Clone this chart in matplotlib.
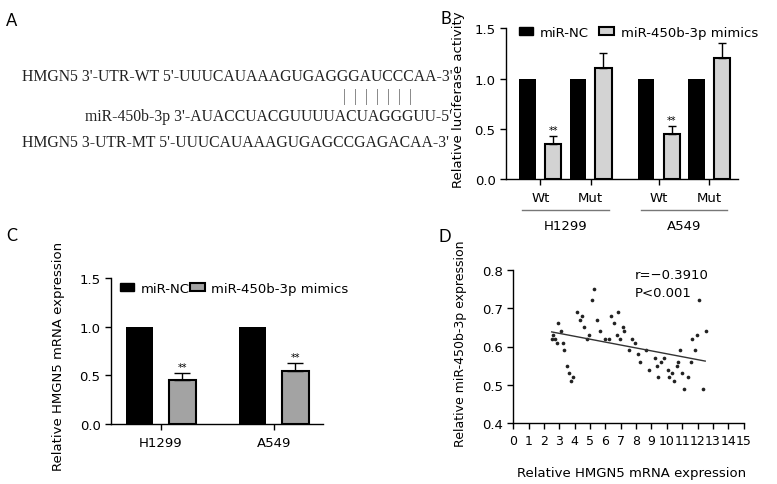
import matplotlib
matplotlib.use("Agg")
import matplotlib.pyplot as plt
from matplotlib.patches import Patch
import numpy as np

plt.rcParams['font.family'] = ['DejaVu Sans']
plt.rcParams['font.size'] = 9.5
plt.rcParams['axes.linewidth'] = 1.0
plt.rcParams['xtick.major.width'] = 1.0
plt.rcParams['ytick.major.width'] = 1.0

# panel A - sequences
seq_wt = "HMGN5 3'-UTR-WT 5'-UUUCAUAAAGUGAGGGAUCCCAA-3'"
seq_pair = "|  |  |  |  |  |  |"
seq_mir = "miR-450b-3p 3'-AUACCUACGUUUUACUAGGGUU-5'"
seq_mt = "HMGN5 3-UTR-MT 5'-UUUCAUAAAGUGAGCCGAGACAA-3'"

# panel B - luciferase
luc_groups = ['H1299', 'A549']
luc_ticks = ['Wt', 'Mut', 'Wt', 'Mut']
luc_nc = [1.0, 1.0, 1.0, 1.0]
luc_mimic = [0.35, 1.10, 0.45, 1.20]
luc_err = [0.077, 0.15, 0.077, 0.15]
luc_sig = ['**', '', '**', '']

# panel C - mRNA
mrna_cells = ['H1299', 'A549']
mrna_nc = [1.0, 1.0]
mrna_mimic = [0.45, 0.55]
mrna_err = [0.075, 0.075]
mrna_sig = ['**', '**']

# panel D - correlation
hmgn5 = [2.50, 2.61, 2.71, 2.82, 2.93, 3.11, 3.21, 3.32, 3.52, 3.63, 3.73, 3.91,
         4.13, 4.32, 4.45, 4.63, 4.82, 4.91, 5.10, 5.26, 5.43, 5.62, 5.95, 6.21,
         6.34, 6.54, 6.73, 6.84, 6.95, 7.12, 7.23, 7.54, 7.73, 7.93, 8.12, 8.25,
         8.62, 8.84, 9.23, 9.34, 9.45, 9.64, 9.84, 10.05, 10.16, 10.34, 10.45,
         10.64, 10.75, 10.86, 10.97, 11.14, 11.36, 11.55, 11.66, 11.86, 11.94,
         12.12, 12.33, 12.53]
mir450 = [0.62, 0.63, 0.62, 0.61, 0.66, 0.64, 0.61, 0.59, 0.55, 0.53, 0.51, 0.52,
          0.69, 0.67, 0.68, 0.65, 0.62, 0.63, 0.72, 0.75, 0.67, 0.64, 0.62, 0.62,
          0.68, 0.66, 0.63, 0.69, 0.62, 0.65, 0.64, 0.59, 0.62, 0.61, 0.58, 0.56,
          0.59, 0.54, 0.57, 0.55, 0.52, 0.56, 0.57, 0.54, 0.52, 0.53, 0.51,
          0.55, 0.56, 0.59, 0.53, 0.49, 0.52, 0.56, 0.62, 0.59, 0.63,
          0.72, 0.49, 0.64]
fit_x = [2.5, 12.5]
fit_y = [0.638, 0.562]
r_text = 'r=\u22120.3910'
p_text = 'P<0.001'

W, H = 777, 485
fig = plt.figure(figsize=(W / 100, H / 100), dpi=100)


def px_axes(left, top, right, bottom):
    return fig.add_axes([left / W, 1 - bottom / H, (right - left) / W, (bottom - top) / H])


# panel letters
for lab, x, y in [('A', 11.5, 20.5), ('B', 446, 19), ('C', 11.5, 236), ('D', 445, 237.5)]:
    fig.text(x / W, 1 - y / H, lab, fontsize=12, family='Lato', ha='center', va='center')

# ---- A
serif = dict(family='Liberation Serif', fontsize=11.35, color='#222222', va='center')
fig.text(21.7 / W, 1 - 76.7 / H, seq_wt, ha='left', **serif)
fig.text(343 / W, 1 - 96.7 / H, seq_pair, ha='left', **dict(serif, color='#666666'))
fig.text(85 / W, 1 - 116.7 / H, seq_mir, ha='left', **serif)
fig.text(21.7 / W, 1 - 143.3 / H, seq_mt, ha='left', **serif)

light = '#d3d3d3'
mid = '#a3a3a3'

# ---- B
axb = px_axes(506, 29.3, 738, 180)
pos = np.array([0, 1, 2.35, 3.35])
bw = 0.32
off = 0.253
axb.bar(pos - off, luc_nc, bw, color='black')
axb.bar(pos + off, luc_mimic, bw, color=light, edgecolor='black', linewidth=1.5)
axb.errorbar(pos + off, luc_mimic, yerr=[np.zeros(4), luc_err], fmt='none',
             ecolor='black', elinewidth=1, capsize=2.8, capthick=1)
for x, v, e, s in zip(pos + off, luc_mimic, luc_err, luc_sig):
    if s:
        axb.text(x, v + e + 0.015, s, ha='center', va='bottom', fontsize=7)
axb.set_xlim(-0.68, 3.92)
axb.set_ylim(0, 1.5)
axb.set_yticks([0, 0.5, 1.0, 1.5])
axb.set_xticks(pos)
axb.set_xticklabels(luc_ticks)
axb.tick_params(axis='x', length=4, pad=5)
axb.tick_params(axis='y', length=4)
for sp in ['top', 'right']:
    axb.spines[sp].set_visible(False)
axb.set_ylabel('Relative luciferase activity')
axb.yaxis.set_label_coords(-0.177, 0.53)
tr = axb.get_xaxis_transform()
for g, (a, b) in zip(luc_groups, [(pos[0], pos[1]), (pos[2], pos[3])]):
    axb.plot([a - 0.36, b + 0.36], [-0.204, -0.204], color='#777777', lw=1,
             transform=tr, clip_on=False)
    axb.text((a + b) / 2, -0.31, g, transform=tr, ha='center', va='center')
hb = [Patch(facecolor='black', edgecolor='black'),
      Patch(facecolor=light, edgecolor='black', linewidth=1.5)]
axb.legend(hb, ['miR-NC', 'miR-450b-3p mimics'], ncol=2, frameon=False,
           loc='center left', bbox_to_anchor=(0.055, 0.973), borderpad=0,
           borderaxespad=0, handlelength=1.1, handleheight=0.5,
           handletextpad=0.5, columnspacing=0.8, fontsize=9.5)

# ---- C
axc = px_axes(111, 279.3, 323.3, 425)
cpos = np.arange(len(mrna_cells))
cw = 0.24
coff = 0.19
axc.bar(cpos - coff, mrna_nc, cw, color='black')
axc.bar(cpos + coff, mrna_mimic, cw, color=mid, edgecolor='black', linewidth=1.5)
axc.errorbar(cpos + coff, mrna_mimic, yerr=[np.zeros(2), mrna_err], fmt='none',
             ecolor='black', elinewidth=1, capsize=6, capthick=1)
for x, v, e, s in zip(cpos + coff, mrna_mimic, mrna_err, mrna_sig):
    axc.text(x, v + e + 0.015, s, ha='center', va='bottom', fontsize=7)
axc.set_xlim(-0.442, 1.436)
axc.set_ylim(0, 1.5)
axc.set_yticks([0, 0.5, 1.0, 1.5])
axc.set_xticks(cpos)
axc.set_xticklabels(mrna_cells)
axc.tick_params(axis='x', length=4, pad=5)
axc.tick_params(axis='y', length=4)
for sp in ['top', 'right']:
    axc.spines[sp].set_visible(False)
axc.set_ylabel('Relative HMGN5 mRNA expression')
axc.yaxis.set_label_coords(-0.217, 0.47)
hc = [Patch(facecolor='black', edgecolor='black'),
      Patch(facecolor=mid, edgecolor='black', linewidth=1.5)]
axc.legend(hc, ['miR-NC', 'miR-450b-3p mimics'], ncol=2, frameon=False,
           loc='center left', bbox_to_anchor=(0.042, 0.933), borderpad=0,
           borderaxespad=0, handlelength=1.1, handleheight=0.5,
           handletextpad=0.5, columnspacing=0.0, fontsize=9.5)

# ---- D
axd = px_axes(513.3, 270.7, 743.6, 424.3)
axd.scatter(hmgn5, mir450, s=7, color='#222222', linewidths=0)
axd.plot(fit_x, fit_y, color='#333333', lw=1)
axd.set_xlim(0, 15)
axd.set_ylim(0.4, 0.8)
axd.set_xticks(range(16))
axd.set_yticks([0.4, 0.5, 0.6, 0.7, 0.8])
axd.tick_params(axis='x', length=4, pad=4, labelsize=9)
axd.tick_params(axis='y', length=4)
for sp in ['top', 'right']:
    axd.spines[sp].set_visible(False)
axd.text(0.529, 0.97, r_text, transform=axd.transAxes, ha='left', va='center')
axd.text(0.529, 0.85, p_text, transform=axd.transAxes, ha='left', va='center')
axd.set_xlabel('Relative HMGN5 mRNA expression')
axd.xaxis.set_label_coords(0.515, -0.276)
axd.set_ylabel('Relative miR-450b-3p expression', fontsize=9)
axd.yaxis.set_label_coords(-0.202, 0.523)

fig.savefig('out.png', dpi=100)
